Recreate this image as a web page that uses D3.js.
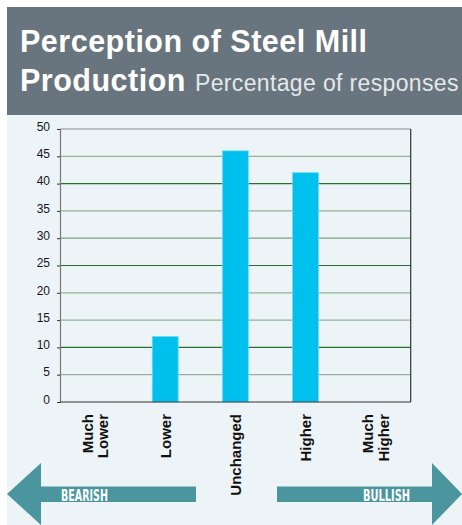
<!DOCTYPE html>
<html>
<head>
<meta charset="utf-8">
<script src="https://cdn.jsdelivr.net/npm/d3@7"></script>
<style>
  html, body { margin: 0; padding: 0; background: #ffffff; }
  svg { display: block; }
</style>
</head>
<body>
<script>
// Survey answers and their share of responses (%)
const categories = ["Much Lower", "Lower", "Unchanged", "Higher", "Much Higher"];
const labelLines = [["Much", "Lower"], ["Lower"], ["Unchanged"], ["Higher"], ["Much", "Higher"]];
const responses = [0, 12, 46, 42, 0];
const yTicks = [0, 5, 10, 15, 20, 25, 30, 35, 40, 45, 50];
const titleLine1 = "Perception of Steel Mill";
const titleLine2 = "Production";
const subtitle = "Percentage of responses";
const arrowLabels = ["BEARISH", "BULLISH"];

const W = 462, H = 525;
const svg = d3.select("body").append("svg").attr("width", W).attr("height", H);

// Panels
svg.append("rect").attr("x", 7).attr("y", 7).attr("width", W - 7).attr("height", 108).attr("fill", "#68757e");
svg.append("rect").attr("x", 7).attr("y", 115).attr("width", W - 7).attr("height", H - 115).attr("fill", "#edf4f7");

// Title block
const sans = "'Liberation Sans', Arial, Helvetica, sans-serif";
svg.append("text").attr("x", 20).attr("y", 52)
  .attr("font-family", sans).attr("font-weight", "bold").attr("font-size", 30.5)
  .attr("letter-spacing", 0.5).attr("fill", "#ffffff").text(titleLine1);
const t2 = svg.append("text").attr("x", 20).attr("y", 91).attr("font-family", sans);
t2.append("tspan").attr("font-weight", "bold").attr("font-size", 30.5).attr("letter-spacing", 0.5)
  .attr("fill", "#ffffff").text(titleLine2);
t2.append("tspan").attr("x", 195).attr("font-size", 23).attr("letter-spacing", 0.35)
  .attr("fill", "#e4e8ea").text(subtitle);

// Scales
const plot = { left: 60, right: 410.7, top: 129, bottom: 402 };
const x = d3.scaleBand().domain(categories).range([plot.left, plot.right])
  .paddingInner(0.63).paddingOuter(0.315);
const y = d3.scaleLinear().domain([0, 50]).range([plot.bottom, plot.top]);

// Horizontal gridlines (every third from 10 drawn darker)
svg.append("g").selectAll("line").data(yTicks.filter(v => v > 0 && v < 50)).join("line")
  .attr("x1", plot.left).attr("x2", plot.right)
  .attr("y1", d => y(d)).attr("y2", d => y(d))
  .attr("stroke", d => (d - 10) % 15 === 0 ? "#2b6f2d" : (d === 30 ? "#7f9f84" : "#93b396"))
  .attr("stroke-width", 1.2);

// Frame: top and right edges
svg.append("line").attr("x1", plot.left).attr("x2", plot.right).attr("y1", y(50)).attr("y2", y(50))
  .attr("stroke", "#8a8f92").attr("stroke-width", 1.2);
svg.append("line").attr("x1", plot.right).attr("x2", plot.right).attr("y1", y(50)).attr("y2", y(0))
  .attr("stroke", "#333333").attr("stroke-width", 1.2);

// Bars
svg.append("g").selectAll("rect").data(categories.map((c, i) => ({ c, v: responses[i] })))
  .join("rect")
  .attr("x", d => x(d.c)).attr("width", x.bandwidth())
  .attr("y", d => y(d.v)).attr("height", d => y(0) - y(d.v))
  .attr("fill", "#00c0ee").attr("stroke", "#6fdcf8").attr("stroke-width", 0.8);

// Y axis
const yAxis = d3.axisLeft(y).tickValues(yTicks).tickSize(3).tickPadding(7);
const gy = svg.append("g").attr("transform", `translate(${plot.left},0)`).call(yAxis);
gy.select(".domain").attr("stroke", "#777").attr("stroke-width", 1.2);
gy.selectAll(".tick line").attr("stroke", "#333");
gy.selectAll(".tick text").attr("font-family", sans).attr("font-size", 12)
  .attr("fill", "#15151f").attr("dy", "0.1em");

// X baseline
svg.append("line").attr("x1", plot.left).attr("x2", plot.right).attr("y1", y(0)).attr("y2", y(0))
  .attr("stroke", "#333").attr("stroke-width", 1.2);

// Rotated category labels
const gx = svg.append("g");
categories.forEach((c, i) => {
  const cx = x(c) + x.bandwidth() / 2;
  const lines = labelLines[i];
  const spacing = 15.5;
  lines.forEach((ln, j) => {
    const offset = (j - (lines.length - 1) / 2) * spacing;
    const bx = cx + offset + 5.5;
    gx.append("text")
      .attr("transform", `translate(${bx},414) rotate(-90)`)
      .attr("text-anchor", "end")
      .attr("font-family", sans).attr("font-weight", "bold").attr("font-size", 15)
      .attr("fill", "#111").text(ln);
  });
});

// Sentiment arrows
const arrowColor = "#4a959e";
const cy = 494;
const leftArrow = [[7, cy], [41, 463], [41, 486.5], [196, 486.5], [196, 502], [41, 502], [41, 525]];
const rightArrow = [[462, cy], [432, 463], [432, 486.5], [277, 486.5], [277, 502], [432, 502], [432, 525]];
svg.append("path").attr("d", d3.line()(leftArrow) + "Z").attr("fill", arrowColor);
svg.append("path").attr("d", d3.line()(rightArrow) + "Z").attr("fill", arrowColor);

const narrow = "'Liberation Sans Narrow', 'DejaVu Sans Condensed', Arial, sans-serif";
[[61, arrowLabels[0]], [363, arrowLabels[1]]].forEach(([tx, label]) => {
  svg.append("text").attr("x", tx).attr("y", 500.5)
    .attr("font-family", narrow).attr("font-weight", "bold").attr("font-size", 16.5)
    .attr("textLength", 47).attr("lengthAdjust", "spacingAndGlyphs")
    .attr("fill", "#ffffff").text(label);
});
</script>
</body>
</html>
